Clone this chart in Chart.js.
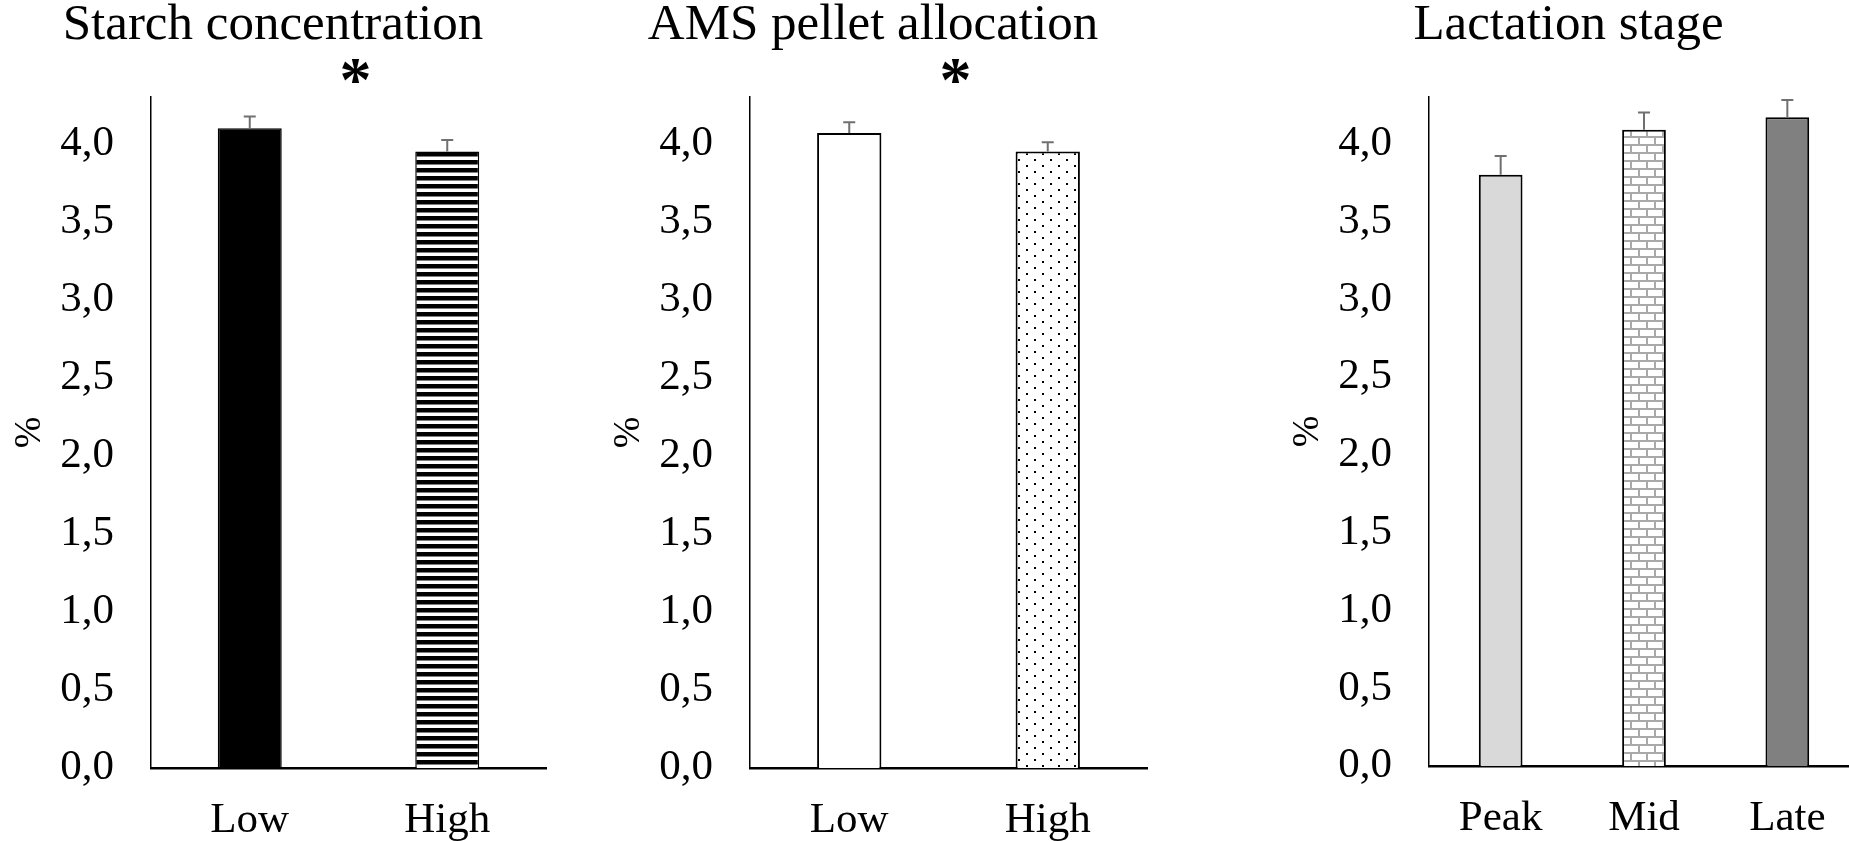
<!DOCTYPE html>
<html lang="en">
<head>
<meta charset="UTF-8">
<title>Starch</title>
<script src="https://cdn.jsdelivr.net/npm/chart.js"></script>
<style>
  html, body { margin: 0; padding: 0; background: #fff; overflow: hidden; width: 1849px; height: 841px; }
  canvas { position: absolute; top: 0; }
  #c1 { left: 0; }
  #c2 { left: 599px; }
  #c3 { left: 1278px; }
</style>
</head>
<body>
<canvas id="c1" width="548" height="841"></canvas>
<canvas id="c2" width="550" height="841"></canvas>
<canvas id="c3" width="584" height="841"></canvas>

<script>
  // values (%)
  const starchLabels = ['Low', 'High'];
  const starchMeans = [4.10, 3.95];
  const starchErrors = [0.075, 0.075];

  const pelletLabels = ['Low', 'High'];
  const pelletMeans = [4.07, 3.95];
  const pelletErrors = [0.068, 0.06];

  const stageLabels = ['Peak', 'Mid', 'Late'];
  const stageMeans = [3.80, 4.09, 4.17];
  const stageErrors = [0.12, 0.11, 0.11];

  const yTicks = [0, 0.5, 1.0, 1.5, 2.0, 2.5, 3.0, 3.5, 4.0];

  const serif = '"Liberation Serif", "Times New Roman", serif';

  function makePattern(w, h, draw) {
    const c = document.createElement('canvas');
    c.width = w; c.height = h;
    const g = c.getContext('2d');
    g.fillStyle = '#fff';
    g.fillRect(0, 0, w, h);
    draw(g);
    return g.createPattern(c, 'repeat');
  }

  const stripes = makePattern(8, 8, g => {
    g.fillStyle = '#000';
    g.fillRect(0, 0, 8, 4.5);
  });

  const dots = makePattern(16, 12, g => {
    g.fillStyle = '#000';
    g.fillRect(3, 3, 2, 2);
    g.fillRect(11, 9, 2, 2);
  });

  const bricks = makePattern(16, 16, g => {
    g.fillStyle = '#a9a9a9';
    g.fillRect(0, 0, 16, 2);
    g.fillRect(0, 8, 16, 2);
    g.fillRect(0, 0, 2, 8);
    g.fillRect(8, 8, 2, 8);
  });

  const errorBars = {
    id: 'errorBars',
    afterDatasetsDraw(chart) {
      const ctx = chart.ctx;
      const y = chart.scales.y;
      const ds = chart.data.datasets[0];
      ctx.save();
      ctx.strokeStyle = '#707070';
      ctx.lineWidth = 2;
      chart.getDatasetMeta(0).data.forEach((bar, i) => {
        const top = y.getPixelForValue(ds.data[i] + ds.errors[i]);
        ctx.beginPath();
        ctx.moveTo(bar.x, bar.y);
        ctx.lineTo(bar.x, top);
        ctx.moveTo(bar.x - 6, top);
        ctx.lineTo(bar.x + 6, top);
        ctx.stroke();
      });
      ctx.restore();
    }
  };

  // significance star between the two groups
  const starMark = {
    id: 'starMark',
    afterDraw(chart) {
      const ctx = chart.ctx;
      const x = chart.scales.x;
      const cx = (x.getPixelForValue(0) + x.getPixelForValue(1)) / 2 + 7;
      ctx.save();
      ctx.font = 'bold 64px ' + serif;
      ctx.fillStyle = '#000';
      ctx.textAlign = 'center';
      ctx.textBaseline = 'alphabetic';
      const m = ctx.measureText('*');
      ctx.fillText('*', cx, 71 + (m.actualBoundingBoxAscent - m.actualBoundingBoxDescent) / 2);
      ctx.restore();
    }
  };

  function makeChart(id, title, labels, means, errors, fills, borderWidths, barPct, xHeight, rightPad, extra) {
    return new Chart(document.getElementById(id), {
      type: 'bar',
      data: {
        labels: labels,
        datasets: [{
          data: means,
          errors: errors,
          backgroundColor: fills,
          borderColor: '#000',
          borderWidth: borderWidths,
          categoryPercentage: 1,
          barPercentage: barPct
        }]
      },
      options: {
        responsive: false,
        animation: false,
        layout: { padding: { left: 0, right: rightPad, top: 0, bottom: 0 } },
        plugins: {
          legend: { display: false },
          tooltip: { enabled: false },
          title: {
            display: true,
            text: title,
            color: '#000',
            font: { family: serif, size: 51, weight: 'normal', lineHeight: 1 },
            padding: { top: 0.5, bottom: 45.5 }
          }
        },
        scales: {
          x: {
            grid: { display: false, drawTicks: false },
            border: { color: '#000', width: 2.5 },
            ticks: { padding: 27, color: '#000', font: { family: serif, size: 43 } },
            afterFit: s => { s.height = xHeight; }
          },
          y: {
            min: 0,
            max: 4.3,
            afterBuildTicks: s => { s.ticks = yTicks.map(v => ({ value: v })); },
            afterFit: s => { s.width = 151; },
            grid: { display: false, drawTicks: false },
            border: { color: '#000', width: 1.5 },
            ticks: {
              padding: 37,
              color: '#000',
              font: { family: serif, size: 43 },
              callback: v => v.toFixed(1).replace('.', ',')
            },
            title: {
              display: true,
              text: '%',
              color: '#000',
              font: { family: serif, size: 38 },
              padding: { top: 7, bottom: 0 }
            }
          }
        }
      },
      plugins: [errorBars].concat(extra)
    });
  }

  makeChart('c1', 'Starch concentration', starchLabels, starchMeans, starchErrors,
    ['#000', stripes], [1.5, 1.5], 0.324, 73, 2, [starMark]);

  makeChart('c2', 'AMS pellet allocation', pelletLabels, pelletMeans, pelletErrors,
    ['#fff', dots], [2, 2], 0.324, 73, 2, [starMark]);

  makeChart('c3', 'Lactation stage', stageLabels, stageMeans, stageErrors,
    ['#d9d9d9', bricks, '#808080'], [2, 2, 2], 0.305, 75, 3, []);
</script>
</body>
</html>
